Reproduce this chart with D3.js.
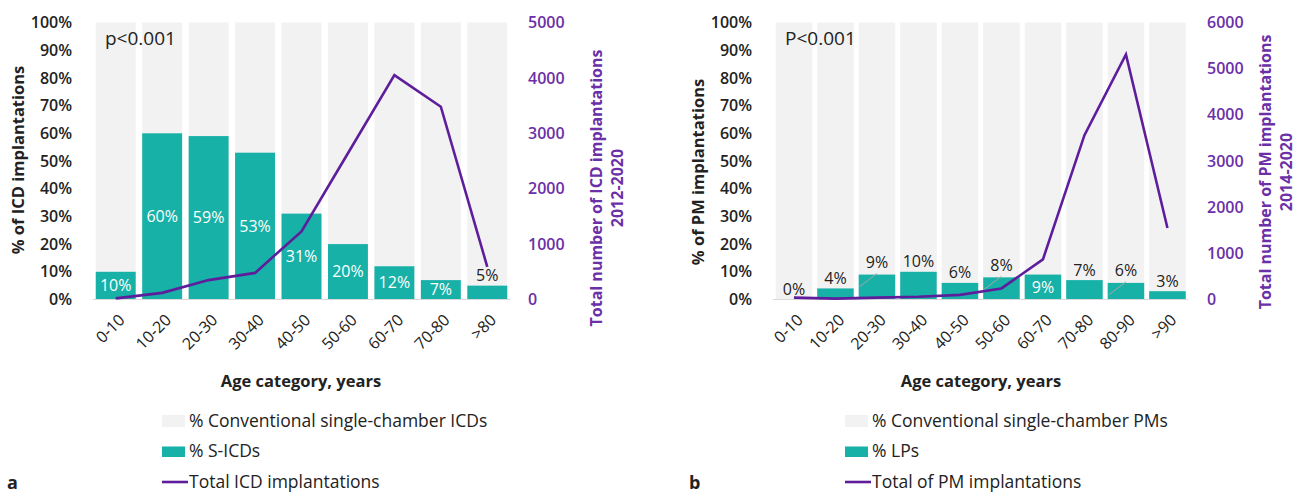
<!DOCTYPE html>
<html>
<head>
<meta charset="utf-8">
<script src="https://cdn.jsdelivr.net/npm/d3@7"></script>
<style>
  body { margin: 0; background: #fff; }
  svg text { font-family: "Open Sans", "Noto Sans", sans-serif; }
</style>
</head>
<body>
<div id="chart-area"></div>
<script>
// panel a : ICDs
const icdCategories = ["0-10", "10-20", "20-30", "30-40", "40-50", "50-60", "60-70", "70-80", ">80"];
const icdSicdPct = [10, 60, 59, 53, 31, 20, 12, 7, 5];
const icdTotal = [20, 120, 350, 480, 1230, 2640, 4050, 3480, 590];
const icdCountTicks = [0, 1000, 2000, 3000, 4000, 5000];

// panel b : pacemakers
const pmCategories = ["0-10", "10-20", "20-30", "30-40", "40-50", "50-60", "60-70", "70-80", "80-90", ">90"];
const pmLpPct = [0, 4, 9, 10, 6, 8, 9, 7, 6, 3];
const pmTotal = [40, 20, 40, 60, 100, 240, 870, 3560, 5310, 1550];
const pmCountTicks = [0, 1000, 2000, 3000, 4000, 5000, 6000];

const pctTicks = [0, 10, 20, 30, 40, 50, 60, 70, 80, 90, 100];

const teal = "#17b1a7", grey = "#f2f2f2", purple = "#5e1e9c", purpleText = "#6b2fa8", ink = "#222";

let svg = d3.select("#chart-area")
  .append("svg")
  .attr("width", 1297)
  .attr("height", 496);

function drawPanel(p) {
  let g = svg.append("g").attr("transform", "translate(" + p.dx + ",0)");

  let x = d3.scaleBand()
    .domain(p.categories)
    .range(p.xRange)
    .paddingInner(p.padIn)
    .paddingOuter(p.padOut);
  let y = d3.scaleLinear().domain([0, 100]).range([299.5, 22.5]);
  let y2 = d3.scaleLinear().domain([0, d3.max(p.countTicks)]).range([299.5, 22.5]);

  let rows = p.categories.map((c, i) => ({ cat: c, pct: p.pct[i], total: p.total[i], place: p.place[i] }));

  // background 100% bars
  g.selectAll(".bg").data(rows).enter().append("rect")
    .attr("x", d => x(d.cat)).attr("width", x.bandwidth())
    .attr("y", y(100)).attr("height", y(0) - y(100))
    .attr("fill", grey);

  // new-device share
  g.selectAll(".fg").data(rows).enter().append("rect")
    .attr("x", d => x(d.cat)).attr("width", x.bandwidth())
    .attr("y", d => y(d.pct)).attr("height", d => y(0) - y(d.pct))
    .attr("fill", teal);

  // baseline
  g.append("line")
    .attr("x1", p.xRange[0]).attr("x2", p.xRange[1])
    .attr("y1", y(0)).attr("y2", y(0))
    .attr("stroke", "#d9d9d9").attr("stroke-width", 1);

  // leader lines
  g.selectAll(".lead").data(rows.filter(d => d.place == "lead")).enter().append("line")
    .attr("x1", d => x(d.cat) + 1).attr("y1", d => y(d.pct) + 12)
    .attr("x2", d => x(d.cat) + x.bandwidth() / 2).attr("y2", d => y(d.pct) - 1)
    .attr("stroke", "#a6a6a6").attr("stroke-width", 1);

  // bar labels
  g.selectAll(".lbl").data(rows).enter().append("text")
    .attr("x", d => x(d.cat) + x.bandwidth() / 2)
    .attr("y", d => d.place == "in" ? (y(d.pct) + y(0)) / 2 : y(d.pct) - (d.place == "lead" ? 12 : 10))
    .attr("dy", "0.35em")
    .attr("text-anchor", "middle")
    .attr("font-size", 16)
    .attr("fill", d => d.place == "in" ? "#fff" : ink)
    .text(d => d.pct + "%");

  // total line
  let line = d3.line()
    .x(d => x(d.cat) + x.bandwidth() / 2)
    .y(d => y2(d.total));
  g.append("path").datum(rows)
    .attr("d", line)
    .attr("fill", "none")
    .attr("stroke", purple)
    .attr("stroke-width", 2.6)
    .attr("stroke-linejoin", "miter");

  // left axis
  let yAxis = g.append("g")
    .attr("transform", "translate(" + p.leftTickX + ",0)")
    .call(d3.axisLeft(y).tickValues(pctTicks).tickSize(0).tickPadding(0).tickFormat(d => d + "%"));
  yAxis.select(".domain").remove();
  yAxis.selectAll("text").attr("font-size", 16).attr("fill", ink).attr("font-weight", 600);

  // right axis
  let y2Axis = g.append("g")
    .attr("transform", "translate(" + p.rightTickX + ",0)")
    .call(d3.axisRight(y2).tickValues(p.countTicks).tickSize(0).tickPadding(0).tickFormat(d3.format("d")));
  y2Axis.select(".domain").remove();
  y2Axis.selectAll("text").attr("font-size", 16).attr("fill", purpleText).attr("font-weight", 600);

  // category labels
  g.selectAll(".xt").data(p.categories).enter().append("text")
    .attr("transform", d => "translate(" + (x(d) + x.bandwidth() / 2 + 6) + "," + 317 + ") rotate(-45)")
    .attr("text-anchor", "end")
    .attr("dy", "0.35em")
    .attr("font-size", 16)
    .attr("fill", ink)
    .text(d => d);

  // titles
  g.append("text")
    .attr("transform", "translate(" + p.leftTitleX + "," + p.leftTitleY + ") rotate(-90)")
    .attr("text-anchor", "middle").attr("dy", "0.35em")
    .attr("font-size", 16.5).attr("font-weight", 700).attr("fill", ink)
    .text(p.leftTitle);

  p.rightTitle.forEach((t, i) => {
    g.append("text")
      .attr("transform", "translate(" + (p.rightTitleX + i * 21) + "," + p.rightTitleY + ") rotate(-90)")
      .attr("text-anchor", "middle").attr("dy", "0.35em")
      .attr("font-size", 16).attr("font-weight", 700).attr("fill", purpleText)
      .text(t);
  });

  g.append("text")
    .attr("x", p.xTitleX).attr("y", 381).attr("dy", "0.35em")
    .attr("text-anchor", "middle")
    .attr("font-size", 16.5).attr("font-weight", 700).attr("fill", ink)
    .text("Age category, years");

  g.append("text")
    .attr("x", p.pX).attr("y", 45)
    .attr("font-size", 19).attr("fill", ink)
    .text(p.pText);

  // legend
  let lg = g.append("g").attr("transform", "translate(" + p.legendX + ",0)");
  lg.append("rect").attr("x", 0).attr("y", 415).attr("width", 23).attr("height", 12).attr("fill", grey);
  lg.append("rect").attr("x", 0).attr("y", 446.5).attr("width", 23).attr("height", 10.5).attr("fill", teal);
  lg.append("line").attr("x1", 0).attr("x2", 26).attr("y1", 482).attr("y2", 482)
    .attr("stroke", purple).attr("stroke-width", 2.6);
  lg.selectAll(".lt").data(p.legend).enter().append("text")
    .attr("x", 27).attr("y", (d, i) => 420.5 + i * 30.5).attr("dy", "0.35em")
    .attr("font-size", 17.5).attr("fill", ink)
    .text(d => d);

  g.append("text")
    .attr("x", p.tagX).attr("y", 489)
    .attr("font-size", 18).attr("font-weight", 700).attr("fill", ink)
    .text(p.tag);
}

drawPanel({
  dx: 0,
  categories: icdCategories, pct: icdSicdPct, total: icdTotal, countTicks: icdCountTicks,
  place: ["in", "in", "in", "in", "in", "in", "in", "in", "out"],
  xRange: [92.5, 510.5], padIn: 0.14, padOut: 0.07,
  leftTickX: 72, rightTickX: 528,
  leftTitle: "% of ICD implantations", leftTitleX: 18, leftTitleY: 160,
  rightTitle: ["Total number of ICD implantations", "2012-2020"], rightTitleX: 596, rightTitleY: 188,
  xTitleX: 301, pX: 105, pText: "p<0.001",
  legendX: 162,
  legend: ["% Conventional single-chamber ICDs", "% S-ICDs", "Total ICD implantations"],
  tagX: 7, tag: "a"
});

drawPanel({
  dx: 680,
  categories: pmCategories, pct: pmLpPct, total: pmTotal, countTicks: pmCountTicks,
  place: ["out", "out", "lead", "out", "out", "lead", "in", "out", "lead", "out"],
  xRange: [93.2, 508.2], padIn: 0.12, padOut: 0.06,
  leftTickX: 72, rightTickX: 527,
  leftTitle: "% of PM implantations", leftTitleX: 18, leftTitleY: 172,
  rightTitle: ["Total number of PM implantations", "2014-2020"], rightTitleX: 585, rightTitleY: 172,
  xTitleX: 301, pX: 105, pText: "P<0.001",
  legendX: 165,
  legend: ["% Conventional single-chamber PMs", "% LPs", "Total of PM implantations"],
  tagX: 9, tag: "b"
});
</script>
</body>
</html>
